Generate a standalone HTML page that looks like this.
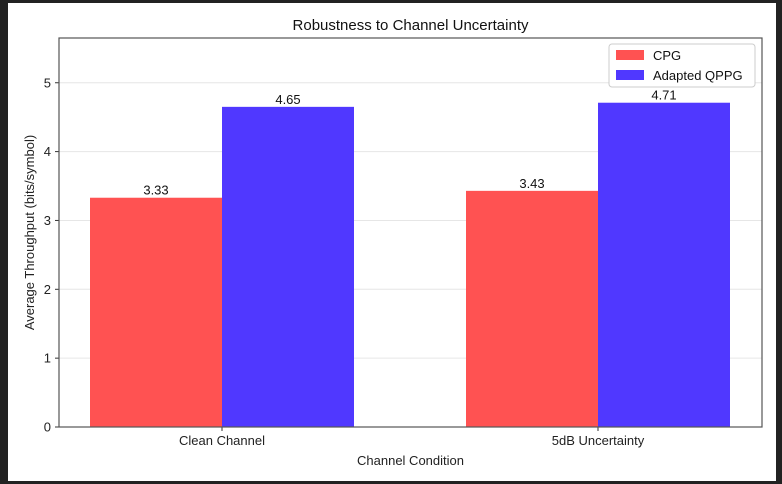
<!DOCTYPE html>
<html><head><meta charset="utf-8"><style>
body{margin:0;background:#222;}
svg{display:block;font-family:"Liberation Sans","DejaVu Sans",sans-serif;}
</style></head><body>
<svg id="c" width="782" height="484">
<rect x="8" y="3" width="768" height="478" fill="#fff"/>
</svg>
<script>
const categories=["Clean Channel","5dB Uncertainty"];
const cpg=[3.33,3.43];
const qppg=[4.65,4.71];
const yTicks=[0,1,2,3,4,5];
const NS="http://www.w3.org/2000/svg";
const svg=document.getElementById('c');
const L=59,R=762,T=38,B=427,ymax=5.65;
const y=v=>B-(v/ymax)*(B-T);
const cx=[222,598];const bw=132;
function mk(t,a,txt){const e=document.createElementNS(NS,t);for(const k in a)e.setAttribute(k,a[k]);if(txt!==undefined)e.textContent=txt;svg.appendChild(e);return e;}
yTicks.forEach(t=>{
 const g=mk('line',{x1:L,x2:R,y1:y(t),y2:y(t),stroke:'#e6e6e6','stroke-width':1});
 
 const tk=mk('line',{x1:L-4,x2:L,y1:y(t),y2:y(t),stroke:'#333'});
 
 const lb=mk('text',{x:L-8,y:y(t)+4.5,'text-anchor':'end','font-size':13,fill:'#222'},t);
 
});
categories.forEach((c,i)=>{
 [[cpg,'#ff5252',-1],[qppg,'#5038ff',0]].forEach(([arr,col,off])=>{
  const x0=cx[i]+off*bw;
  const r=mk('rect',{x:x0,y:y(arr[i]),width:bw,height:B-y(arr[i]),fill:col});
  
 });
 const tk=mk('line',{x1:cx[i],x2:cx[i],y1:B,y2:B+4,stroke:'#333'});
 
 const lb=mk('text',{x:cx[i],y:B+18,'text-anchor':'middle','font-size':13,fill:'#222'},c);
 
});
const ax=mk('rect',{x:L,y:T,width:R-L,height:B-T,fill:'none',stroke:'#555','stroke-width':1.2});

const ti=mk('text',{x:(L+R)/2,y:30,'text-anchor':'middle','font-size':15,fill:'#111'},'Robustness to Channel Uncertainty');

const xt=mk('text',{x:(L+R)/2,y:465,'text-anchor':'middle','font-size':13,fill:'#222'},'Channel Condition');

const yt=mk('text',{x:0,y:0,'text-anchor':'middle','font-size':13,fill:'#222',transform:`translate(34,${(T+B)/2}) rotate(-90)`},'Average Throughput (bits/symbol)');

const lg=mk('rect',{x:609,y:44,width:146,height:43,fill:'#fff',stroke:'#ccc',rx:3});

[['CPG','#ff5252'],['Adapted QPPG','#5038ff']].forEach(([n,col],k)=>{
 const s=mk('rect',{x:616,y:50+k*20,width:28,height:10,fill:col});
 
 const t=mk('text',{x:653,y:60+k*20,'font-size':13,fill:'#111'},n);
 
});
categories.forEach((c,i)=>{
 [[cpg,-1],[qppg,0]].forEach(([arr,off])=>{
  const x0=cx[i]+off*bw;
  const v=mk('text',{x:x0+bw/2,y:y(arr[i])-3,'text-anchor':'middle','font-size':13,fill:'#111'},arr[i].toFixed(2));
  
 });
});
</script>
</body></html>
